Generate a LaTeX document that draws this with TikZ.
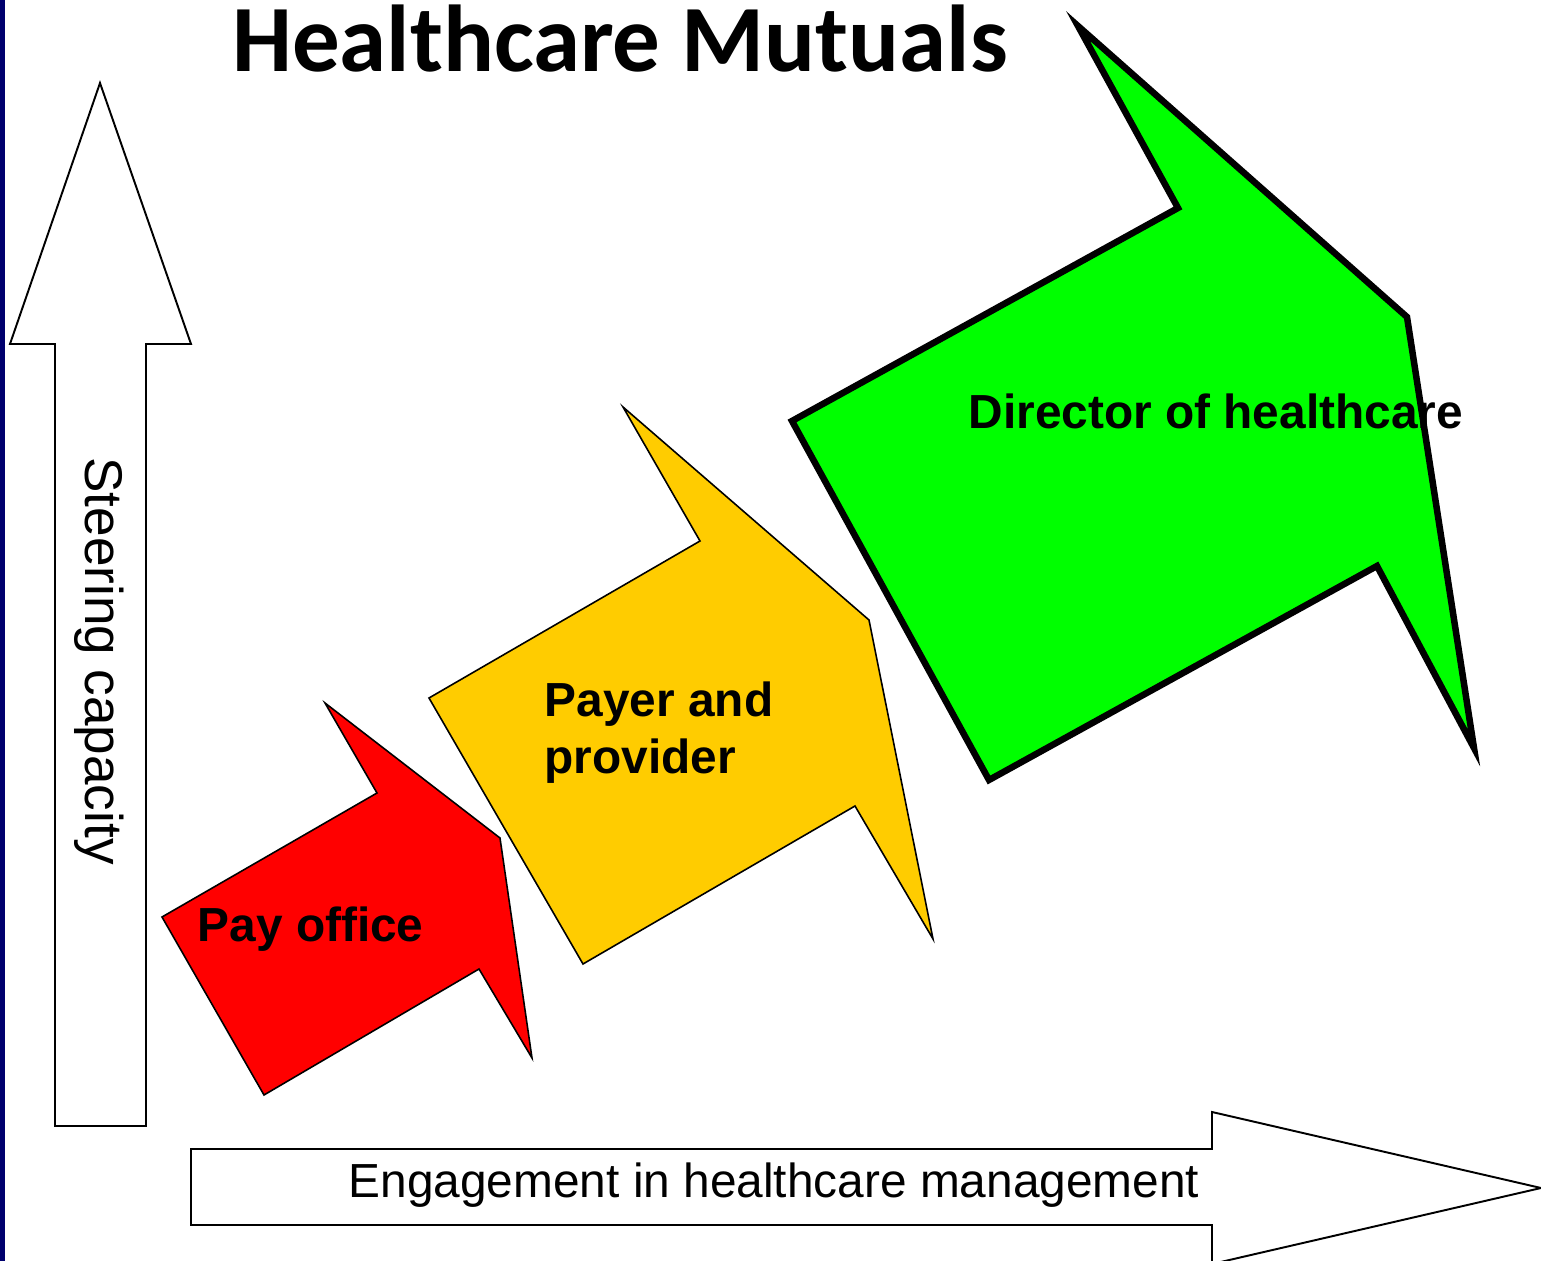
\documentclass[tikz,border=0pt]{standalone}
\usepackage{fontspec}
\setmainfont{Liberation Sans}
\newfontfamily\titlefont{Carlito}
\usepackage{tikz}
\definecolor{slidebar}{RGB}{0,0,110}
\definecolor{payred}{RGB}{255,0,0}
\definecolor{payeryellow}{RGB}{255,204,0}
\definecolor{directorgreen}{RGB}{0,255,0}
\tikzset{
    axisarrow/.style = {
        draw,
        fill=white,
        line width=0.55pt,
        line join=miter
    },
    stage/.style = {
        draw,
        line width=0.45pt,
        line join=miter
    },
    bigstage/.style = {
        draw,
        line width=1.85pt,
        line join=miter
    },
    stagelabel/.style = {
        font=\bfseries\fontsize{13.6}{16.3}\selectfont,
        inner sep=0pt
    },
    axislabel/.style = {
        font=\fontsize{13.6}{16.3}\selectfont,
        inner sep=0pt
    },
}

\begin{document}
\begin{tikzpicture}[x=0.01cm, y=-0.01cm]
    \useasboundingbox (0,0) rectangle (1541,1261);
    \fill[white] (0,0) rectangle (1541,1261);
    \fill[slidebar] (0,0) rectangle (5,1261);

    \node[font=\titlefont\bfseries\fontsize{27}{32}\selectfont, anchor=base, inner sep=0pt] (title) at (620,72) {Healthcare Mutuals};

    \path[axisarrow] (100,83) -- (191,344) -- (146,344) -- (146,1126) -- (55,1126) -- (55,344) -- (10,344) -- cycle;
    \path[axisarrow] (191,1149) -- (1212,1149) -- (1212,1112) -- (1541,1188) -- (1212,1264) -- (1212,1225) -- (191,1225) -- cycle;
    \node[axislabel, font=\fontsize{15.1}{18}\selectfont, rotate=-90, anchor=base] (steering) at (85,661) {Steering capacity};
    \node[axislabel, anchor=base] (engagement) at (774,1198) {Engagement in healthcare management};

    \path[stage, fill=payred] (162,917) -- (377,793) -- (325,703) -- (500,838) -- (532,1058) -- (479,969) -- (264,1095) -- cycle;
    \path[stage, fill=payeryellow] (429,698) -- (700,541) -- (623,407) -- (869,620) -- (933,939) -- (855,806) -- (583,964) -- cycle;
    \path[bigstage, fill=directorgreen] (792,421) -- (1178,208) -- (1078,26) -- (1407,317) -- (1474,748) -- (1377,566) -- (989,780) -- cycle;

    \node[stagelabel, anchor=base west] (payoffice) at (197,942) {Pay office};
    \node[stagelabel, anchor=north west, align=left] (payer) at (544,681) {Payer and\\provider};
    \node[stagelabel, anchor=base west] (director) at (968,429) {Director of healthcare};
\end{tikzpicture}
\end{document}
